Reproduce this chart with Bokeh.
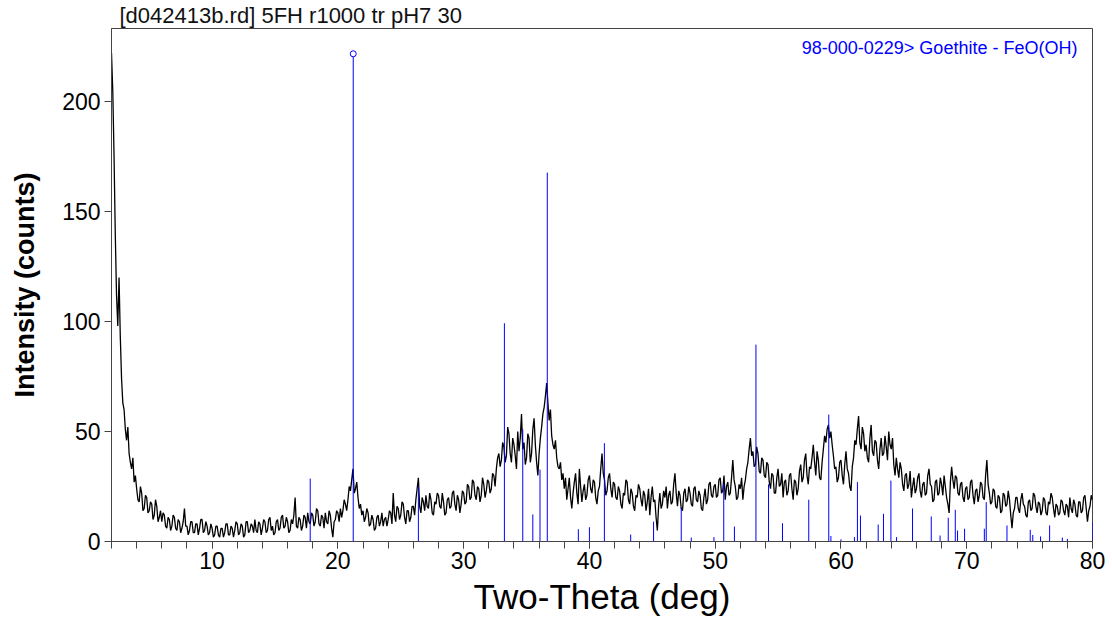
from bokeh.plotting import figure
from bokeh.models import Range1d, FixedTicker, Label
from bokeh.embed import file_html
from bokeh.resources import INLINE

# ---- measured pattern (2-theta start / step, intensity in counts) ----
two_theta_start = 2.0
two_theta_step = 0.1
intensity = [
    222, 205, 176, 140, 112, 98, 120, 93, 74, 63, 60, 51, 46, 52, 40, 36, 33, 38, 27, 30,
    24, 19, 18, 25, 22, 14, 15, 21, 20, 13, 14, 18, 17, 10, 12, 19, 16, 9, 11, 14,
    9, 13, 12, 7, 6, 11, 10, 5, 7, 12, 11, 6, 5, 10, 9, 4, 6, 9, 15, 7,
    7, 3, 5, 9, 9, 4, 4, 8, 8, 3, 6, 10, 10, 4, 5, 9, 7, 3, 4, 8,
    6, 2, 3, 7, 7, 3, 2, 6, 6, 2, 4, 8, 8, 3, 3, 7, 6, 2, 5, 9,
    8, 3, 4, 8, 7, 2, 3, 9, 9, 4, 5, 8, 7, 4, 10, 5, 4, 9, 8, 3,
    6, 10, 9, 4, 5, 10, 11, 5, 7, 3, 4, 9, 10, 5, 6, 11, 12, 6, 7, 11,
    9, 4, 5, 10, 8, 12, 20, 7, 6, 11, 10, 5, 7, 12, 11, 6, 13, 9, 8, 13,
    12, 7, 9, 15, 14, 8, 7, 12, 11, 6, 13, 9, 8, 14, 12, 6, 2, 9, 10, 14,
    13, 9, 15, 11, 14, 19, 17, 14, 19, 25, 23, 28, 33, 22, 24, 27, 20, 15, 17, 12,
    14, 9, 11, 15, 13, 7, 8, 12, 10, 5, 6, 11, 12, 7, 9, 13, 7, 10, 11, 7,
    10, 14, 13, 8, 22, 12, 9, 16, 15, 10, 12, 18, 17, 11, 8, 14, 14, 9, 11, 16,
    16, 12, 19, 24, 29, 16, 13, 20, 18, 14, 21, 16, 15, 22, 19, 13, 12, 18, 17, 22,
    21, 16, 15, 22, 18, 12, 13, 19, 20, 15, 16, 22, 23, 17, 14, 21, 19, 13, 17, 23,
    22, 17, 18, 26, 25, 19, 20, 28, 27, 21, 19, 25, 24, 18, 21, 29, 26, 20, 23, 28,
    27, 22, 24, 31, 30, 25, 33, 38, 40, 34, 37, 45, 43, 36, 39, 52, 49, 40, 36, 47,
    44, 39, 33, 50, 41, 47, 58, 42, 45, 35, 38, 49, 47, 36, 40, 51, 56, 44, 36, 30,
    40, 47, 52, 58, 61, 66, 72, 63, 55, 60, 48, 44, 42, 46, 38, 34, 33, 36, 28, 31,
    24, 29, 19, 24, 29, 20, 15, 22, 27, 31, 22, 17, 33, 25, 18, 23, 26, 19, 21, 28,
    30, 24, 22, 28, 27, 20, 17, 23, 25, 33, 40, 31, 28, 21, 23, 29, 31, 24, 20, 27,
    26, 20, 19, 25, 23, 17, 15, 22, 21, 28, 27, 19, 17, 24, 22, 16, 14, 21, 20, 26,
    24, 19, 16, 23, 21, 14, 18, 24, 12, 20, 25, 18, 19, 11, 5, 16, 22, 15, 17, 23,
    20, 25, 15, 21, 23, 17, 18, 26, 31, 22, 16, 23, 21, 15, 14, 22, 24, 18, 19, 25,
    22, 17, 16, 24, 25, 19, 18, 23, 21, 15, 14, 20, 24, 17, 19, 26, 27, 21, 20, 25,
    26, 20, 21, 28, 29, 22, 23, 30, 19, 25, 27, 21, 22, 29, 37, 28, 25, 19, 20, 26,
    24, 29, 19, 25, 28, 33, 36, 42, 47, 39, 41, 34, 35, 43, 40, 32, 31, 38, 37, 30,
    29, 36, 35, 27, 24, 31, 30, 22, 22, 29, 33, 25, 26, 31, 20, 27, 28, 21, 23, 30,
    31, 24, 19, 28, 27, 21, 24, 32, 35, 27, 29, 37, 40, 30, 26, 34, 33, 38, 44, 36,
    30, 41, 37, 29, 28, 36, 42, 48, 45, 51, 53, 47, 50, 44, 39, 33, 34, 27, 29, 36,
    37, 30, 26, 35, 41, 33, 31, 25, 23, 34, 38, 46, 44, 51, 57, 45, 42, 52, 49, 41,
    44, 38, 36, 47, 53, 41, 39, 46, 45, 37, 33, 42, 47, 39, 40, 48, 43, 37, 50, 44,
    42, 47, 35, 30, 38, 33, 29, 36, 33, 26, 23, 30, 31, 24, 26, 32, 20, 25, 29, 22,
    24, 29, 31, 23, 20, 26, 27, 21, 22, 30, 33, 26, 25, 18, 19, 27, 28, 21, 22, 29,
    26, 21, 30, 25, 20, 17, 13, 27, 34, 28, 24, 30, 29, 22, 21, 26, 27, 20, 18, 24,
    25, 19, 20, 27, 28, 21, 17, 23, 24, 18, 21, 27, 26, 20, 19, 30, 37, 26, 22, 17,
    18, 24, 23, 16, 15, 21, 20, 13, 14, 22, 21, 16, 17, 23, 19, 12, 6, 13, 15, 20,
    20, 15, 13, 19, 22, 17, 16, 12, 11, 18, 19, 14, 15, 22, 21, 16, 13, 18, 17, 12,
    14, 20, 19, 13, 12, 18, 17, 22, 20, 15, 11, 17, 16, 12, 13, 19, 18, 14, 12, 17,
    16, 11, 20, 15, 13, 19, 17, 12, 11, 18, 18, 13, 14, 20, 21, 15, 9, 14, 16, 21,
    19,
]
two_theta = [two_theta_start + two_theta_step * i for i in range(len(intensity))]

# ---- reference pattern sticks: 98-000-0229 Goethite ----
stick_pos = [17.80, 21.22, 26.40, 33.24, 34.70, 35.50, 36.07, 36.65, 39.12, 40.00,
             41.19, 43.28, 45.10, 47.30, 48.10, 49.90, 50.68, 51.53, 53.24, 54.24,
             55.35, 57.44, 59.03, 59.20, 60.00, 61.07, 61.31, 61.55, 62.96, 63.38,
             63.97, 64.42, 65.69, 67.18, 67.88, 68.53, 69.09, 69.27, 69.83, 71.40,
             71.55, 73.20, 75.05, 75.25, 75.87, 76.59, 77.60, 78.00, 80.00]
stick_int = [28.6, 221.7, 25.0, 99.2, 51.0, 12.3, 32.7, 167.7, 5.6, 6.5,
             44.7, 3.2, 9.0, 15.3, 1.8, 2.0, 26.2, 6.8, 89.5, 26.0,
             8.3, 19.0, 57.7, 2.5, 1.0, 2.0, 27.0, 11.8, 7.7, 12.6,
             27.7, 2.0, 15.0, 11.4, 2.7, 10.8, 14.4, 5.0, 5.8, 5.8,
             17.9, 7.3, 5.3, 3.0, 2.3, 7.3, 1.8, 1.2, 8.8]

x_major = [10, 20, 30, 40, 50, 60, 70, 80]
x_minor = list(range(2, 81, 2))
y_major = [0, 50, 100, 150, 200]

title_text = "[d042413b.rd] 5FH r1000 tr pH7 30"
ref_label = "98-000-0229> Goethite - FeO(OH)"

FONT = "Liberation Sans"

p = figure(width=1112, height=623, output_backend="svg", toolbar_location=None,
           x_range=Range1d(2, 80), y_range=Range1d(0, 233.2),
           min_border_left=111, min_border_right=20, min_border_top=28,
           min_border_bottom=82)
p.background_fill_color = "white"
p.border_fill_color = "white"
p.outline_line_color = "#444444"
p.xgrid.visible = False
p.ygrid.visible = False

p.title.text = title_text
p.title.text_font = FONT
p.title.text_font_size = "22px"
p.title.text_font_style = "normal"
p.title.text_color = "#111111"
p.title.offset = 8
p.title.standoff = 1

p.line(two_theta, intensity, line_color="black", line_width=1.3)
p.segment(x0=stick_pos, y0=[0] * len(stick_pos), x1=stick_pos, y1=stick_int,
          line_color="#0000ff", line_width=1)
imax = stick_int.index(max(stick_int))
p.scatter([stick_pos[imax]], [stick_int[imax]], marker="circle", size=6,
          fill_color="white", line_color="#0000ff", line_width=1)

p.add_layout(Label(x=78.8, y=224.5, text=ref_label, text_align="right",
                   text_baseline="middle", text_font=FONT, text_font_size="18px",
                   text_color="#0000ff"))

xa = p.xaxis[0]
xa.ticker = FixedTicker(ticks=x_major, minor_ticks=x_minor)
xa.axis_label = "Two-Theta (deg)"
xa.axis_label_text_font = FONT
xa.axis_label_text_font_size = "35px"
xa.axis_label_text_font_style = "normal"
xa.axis_label_text_color = "black"
xa.axis_label_standoff = 5
xa.major_label_text_font = FONT
xa.major_label_text_font_size = "23px"
xa.major_label_text_color = "black"
xa.major_label_standoff = 3
xa.major_tick_in = 0
xa.major_tick_out = 7
xa.minor_tick_in = 0
xa.minor_tick_out = 7
xa.axis_line_color = "#444444"
xa.major_tick_line_color = "#444444"
xa.minor_tick_line_color = "#444444"

ya = p.yaxis[0]
ya.ticker = FixedTicker(ticks=y_major)
ya.axis_label = "Intensity (counts)"
ya.axis_label_text_font = FONT
ya.axis_label_text_font_size = "27px"
ya.axis_label_text_font_style = "bold"
ya.axis_label_text_color = "black"
ya.axis_label_standoff = 19
ya.major_label_text_font = FONT
ya.major_label_text_font_size = "23px"
ya.major_label_text_color = "black"
ya.major_label_standoff = 4
ya.major_tick_in = 0
ya.major_tick_out = 7
ya.minor_tick_line_color = None
ya.axis_line_color = "#444444"
ya.major_tick_line_color = "#444444"

open("out.html", "w").write(file_html(p, INLINE))
